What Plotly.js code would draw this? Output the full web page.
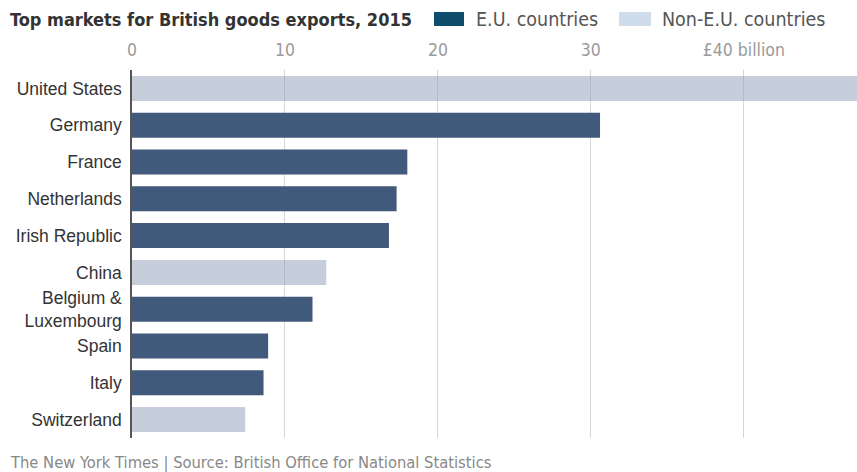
<!DOCTYPE html>
<html>
<head>
<meta charset="utf-8">
<script src="https://cdn.plot.ly/plotly-3.0.1.min.js"></script>
<style>html,body{margin:0;padding:0;background:#fff;}#chart{width:857px;height:472px;}</style>
</head>
<body>
<div id="chart"></div>
<script>
const countries = ["United States", "Germany", "France", "Netherlands", "Irish Republic", "China", "Belgium &<br>Luxembourg", "Spain", "Italy", "Switzerland"];
const exportsBn = [47.5, 30.6, 18.0, 17.3, 16.8, 12.7, 11.8, 8.9, 8.6, 7.4];
const isEU = [false, true, true, true, true, false, true, true, true, false];
const tickVals = [0, 10, 20, 30, 40];
const tickLabels = ["0", "10", "20", "30", "£40 billion"];

const condensed = "DejaVu Sans Condensed, Liberation Sans Narrow, sans-serif";
const euC = [], euV = [], nonC = [], nonV = [];
countries.forEach((c, i) => { if (isEU[i]) { euC.push(c); euV.push(exportsBn[i]); } else { nonC.push(c); nonV.push(exportsBn[i]); } });

const traces = [
  {type: 'bar', orientation: 'h', y: euC, x: euV, name: 'E.U. countries',
   marker: {color: '#41597b', line: {width: 0}}, hoverinfo: 'x+y'},
  {type: 'bar', orientation: 'h', y: nonC, x: nonV, name: 'Non-E.U. countries',
   marker: {color: 'rgba(150,165,188,0.55)', line: {width: 0}}, hoverinfo: 'x+y'}
];

const layout = {
  width: 857, height: 472,
  margin: {l: 132, r: 0, t: 70, b: 34},
  paper_bgcolor: '#fff', plot_bgcolor: '#fff',
  barmode: 'overlay', bargap: 0.32,
  showlegend: false,
  xaxis: {
    side: 'top', range: [0, 47.4], tickvals: tickVals, ticktext: tickLabels,
    showgrid: true, gridcolor: '#d6d6d6', gridwidth: 1, zeroline: false,
    showline: false, ticks: '', ticklabelstandoff: 10,
    tickfont: {family: condensed, size: 17.5, color: '#9a9a9a'}, fixedrange: true
  },
  yaxis: {
    type: 'category', categoryorder: 'array', categoryarray: countries,
    autorange: 'reversed', showgrid: false, zeroline: false,
    showline: true, linecolor: '#555', linewidth: 1.5, ticks: '',
    ticklabelstandoff: 5,
    tickfont: {family: 'Liberation Sans, Arial, sans-serif', size: 17.5, color: '#333'}, fixedrange: true
  },
  annotations: [
    {xref: 'paper', yref: 'paper', x: -132/725, xshift: 8, y: 1, yshift: 51, xanchor: 'left', yanchor: 'middle',
     text: '<b>Top markets for British goods exports, 2015</b>', showarrow: false,
     font: {family: condensed, size: 18, color: '#333'}},
    {xref: 'paper', yref: 'paper', x: (474-132)/725, y: 1, yshift: 51, xanchor: 'left', yanchor: 'middle',
     text: 'E.U. countries', showarrow: false, font: {family: condensed, size: 19.5, color: '#555'}},
    {xref: 'paper', yref: 'paper', x: (660-132)/725, y: 1, yshift: 51, xanchor: 'left', yanchor: 'middle',
     text: 'Non-E.U. countries', showarrow: false, font: {family: condensed, size: 19.5, color: '#555'}},
    {xref: 'paper', yref: 'paper', x: -124/725, y: 0, yshift: -24, xanchor: 'left', yanchor: 'middle',
     text: 'The New York Times | Source: British Office for National Statistics', showarrow: false,
     font: {family: condensed, size: 16.4, color: '#888'}}
  ],
  shapes: [
    {type: 'rect', xref: 'paper', yref: 'paper', x0: (434-132)/725, x1: (464-132)/725, y0: 1 + (70-26)/368, y1: 1 + (70-12)/368,
     fillcolor: '#0f4d6c', line: {width: 0}},
    {type: 'rect', xref: 'paper', yref: 'paper', x0: (619-132)/725, x1: (651-132)/725, y0: 1 + (70-26)/368, y1: 1 + (70-12)/368,
     fillcolor: '#cedceb', line: {width: 0}}
  ]
};

Plotly.newPlot('chart', traces, layout, {displayModeBar: false, responsive: false});
</script>
</body>
</html>
